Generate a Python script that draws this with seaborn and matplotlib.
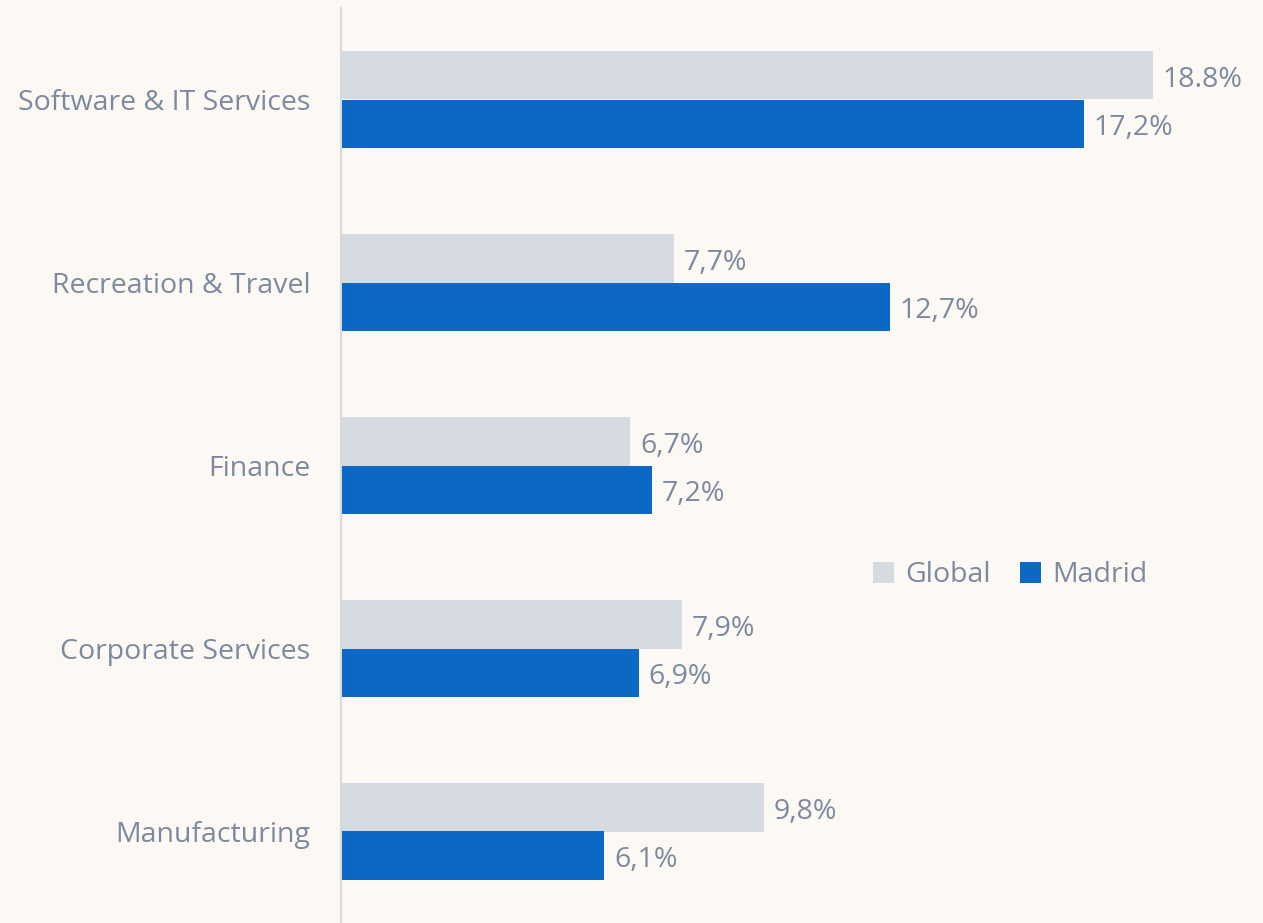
from matplotlib import pyplot as plt
import seaborn as sns
import pandas as pd

sectors = ['Software & IT Services', 'Recreation & Travel', 'Finance',
           'Corporate Services', 'Manufacturing']
global_vals = [18.8, 7.7, 6.7, 7.9, 9.8]
madrid_vals = [17.2, 12.7, 7.2, 6.9, 6.1]
global_labels = ['18.8%', '7,7%', '6,7%', '7,9%', '9,8%']
madrid_labels = ['17,2%', '12,7%', '7,2%', '6,9%', '6,1%']

df = pd.DataFrame({
    'sector': sectors * 2,
    'value': global_vals + madrid_vals,
    'serie': ['Global'] * len(sectors) + ['Madrid'] * len(sectors),
})

bg = '#fcf9f5'
txt = '#7d899e'
colors = {'Global': '#d5dbe1', 'Madrid': '#0b68c4'}

sns.set_style('white')
plt.rcParams['font.family'] = ['Open Sans', 'DejaVu Sans']

fig = plt.figure(figsize=(12.63, 9.23), dpi=100, facecolor=bg)
ax = fig.add_axes([341 / 1263, 0, 1 - 341 / 1263, 1 - 8 / 923])
ax.set_facecolor(bg)

sns.barplot(data=df, x='value', y='sector', hue='serie', palette=colors,
            width=0.525, gap=0, orient='h', ax=ax, saturation=1, linewidth=0)

for cont, labs in zip(ax.containers, [global_labels, madrid_labels]):
    anns = ax.bar_label(cont, labels=labs, padding=7, color=txt, fontsize=20.5)
    for a in anns:
        # nudge the value labels a bit lower, like in the original
        a.xyann = (7, -3)

ax.set_xlim(0, 922 / 43.19)
ax.set_ylim(4.5, -0.5)
ax.set_xlabel('')
ax.set_ylabel('')
ax.set_xticks([])
ax.tick_params(axis='y', length=0, pad=22, labelsize=20.5, labelcolor=txt)
for s in ['top', 'right', 'bottom']:
    ax.spines[s].set_visible(False)
ax.spines['left'].set_color('#d9d9d9')
ax.spines['left'].set_linewidth(1.5)

leg = ax.legend(loc='center', bbox_to_anchor=(0.726, 0.380), ncol=2, frameon=False,
                fontsize=20.5, handlelength=0.75, handleheight=0.75,
                columnspacing=1.0, handletextpad=0.4)
for t in leg.get_texts():
    t.set_color(txt)

fig.savefig('out.png', dpi=100, facecolor=bg)
